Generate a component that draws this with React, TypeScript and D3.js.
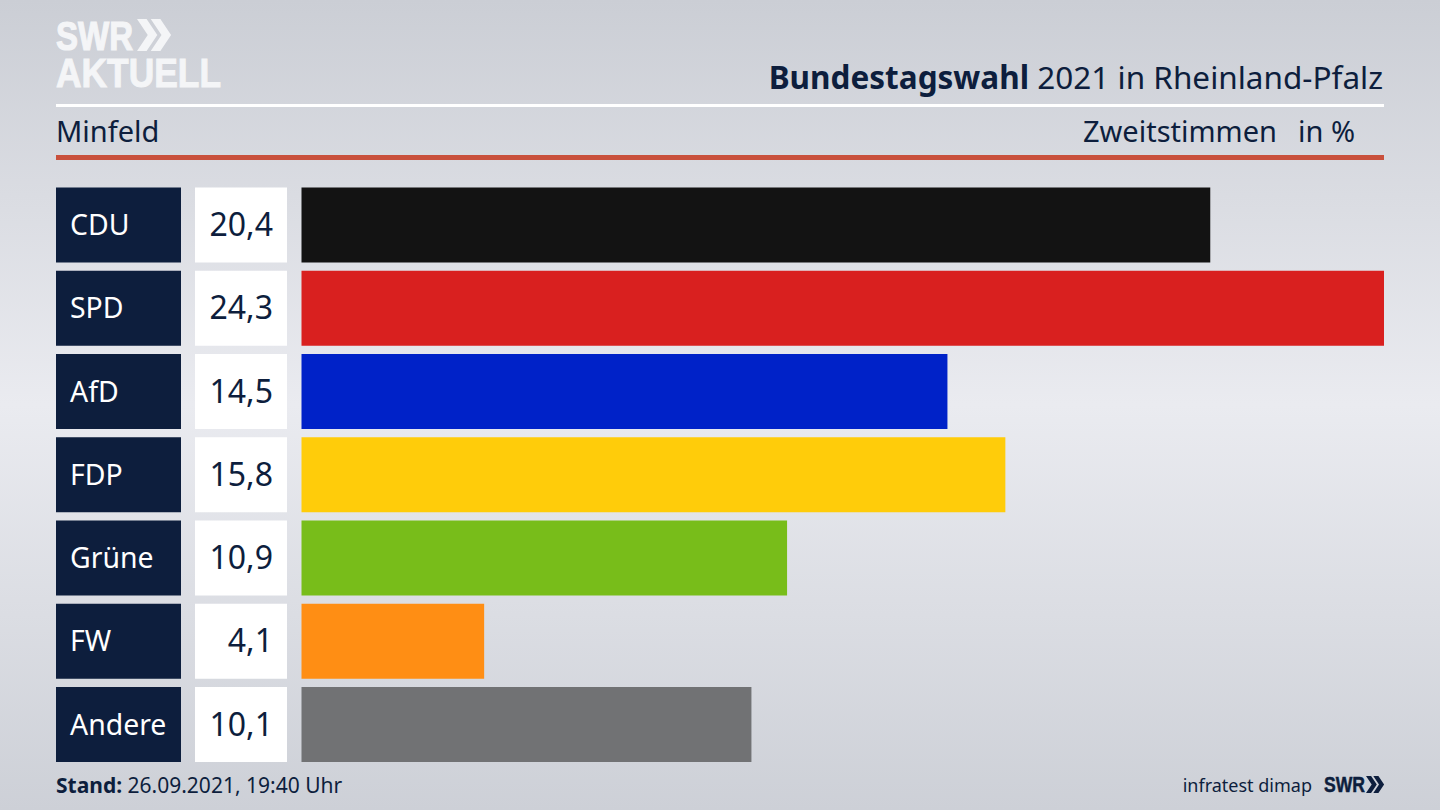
import React, { useEffect } from 'react';
import * as d3 from 'd3';

const parties = ['CDU', 'SPD', 'AfD', 'FDP', 'Grüne', 'FW', 'Andere'];
const shares = [20.4, 24.3, 14.5, 15.8, 10.9, 4.1, 10.1];
const partyColors = ['#131313', '#d9201f', '#0022c8', '#ffcc0a', '#78bd1a', '#ff8e14', '#717274'];

const FONT = '"Noto Sans", sans-serif';
const LOGO_FONT = '"Liberation Sans", sans-serif';
const NAVY = '#0d1e3d';
const LOGO_WHITE = '#f4f5f7';

// little double chevron of the SWR logo
const Chevrons = ({ x, y, h, fill }: { x: number; y: number; h: number; fill: string }) => {
  const w = h * 0.5;
  const t = h * 0.3;
  const one = (ox: number) => {
    const p = d3.path();
    p.moveTo(ox, 0);
    p.lineTo(ox + t, 0);
    p.lineTo(ox + w + t * 0.45, h / 2);
    p.lineTo(ox + t, h);
    p.lineTo(ox, h);
    p.lineTo(ox + w - t * 0.55, h / 2);
    p.closePath();
    return p.toString();
  };
  return (
    <g transform={`translate(${x},${y})`} fill={fill}>
      <path d={one(0)} />
      <path d={one(w * 0.86)} />
    </g>
  );
};

const App = () => {
  useEffect(() => {
    document.body.style.margin = '0';
  }, []);

  const x = d3.scaleLinear().domain([0, 24.3]).range([301.5, 1384]);
  const y = d3.scaleBand().domain(parties).range([187.5, 762]).paddingInner(0.0991);
  const fmt = (v: number) => v.toFixed(1).replace('.', ',');

  return (
    <svg width={1440} height={810} style={{ display: 'block' }} fontFamily={FONT}>
      <defs>
        <linearGradient id="bg" x1="0" y1="0" x2="0" y2="1">
          <stop offset="0" stopColor="#cbced5" />
          <stop offset="0.5" stopColor="#eaebf0" />
          <stop offset="1" stopColor="#cdd0d7" />
        </linearGradient>
      </defs>
      <rect width={1440} height={810} fill="url(#bg)" />

      {/* logo */}
      <text x={56} y={50} fontSize={41} fontWeight={700} fill={LOGO_WHITE} stroke={LOGO_WHITE} strokeWidth={1.2} fontFamily={LOGO_FONT} textLength={77} lengthAdjust="spacingAndGlyphs">SWR</text>
      <Chevrons x={137} y={19} h={32} fill={LOGO_WHITE} />
      <text x={56} y={87} fontSize={41} fontWeight={700} fill={LOGO_WHITE} stroke={LOGO_WHITE} strokeWidth={1} fontFamily={LOGO_FONT} textLength={165} lengthAdjust="spacingAndGlyphs">AKTUELL</text>

      {/* header */}
      <text x={1383} y={89} textAnchor="end" fontSize={31.5} fill={NAVY}>
        <tspan fontWeight={700}>Bundestagswahl</tspan> 2021 in Rheinland-Pfalz
      </text>
      <rect x={56} y={104} width={1328} height={3} fill="#ffffff" />
      <text x={56} y={142} fontSize={29} fill={NAVY}>Minfeld</text>
      <text x={1277} y={142} textAnchor="end" fontSize={29} fill={NAVY}>Zweitstimmen</text>
      <text x={1355} y={142} textAnchor="end" fontSize={29} fill={NAVY}>in %</text>
      <rect x={56} y={155} width={1328} height={5} fill="#c9503c" />

      {/* rows */}
      {parties.map((party, i) => {
        const top = y(party) as number;
        const h = y.bandwidth();
        return (
          <g key={party}>
            <rect x={56} y={top} width={125} height={h} fill={NAVY} />
            <text x={70} y={top + h / 2 + 10} fontSize={28.4} fill="#ffffff">{party}</text>
            <rect x={195} y={top} width={92} height={h} fill="#ffffff" />
            <text x={273} y={top + h / 2 + 11} textAnchor="end" fontSize={32} fill={NAVY}>{fmt(shares[i])}</text>
            <rect x={x(0)} y={top} width={x(shares[i]) - x(0)} height={h} fill={partyColors[i]} />
          </g>
        );
      })}

      {/* footer */}
      <text x={56} y={793} fontSize={21} fill={NAVY}>
        <tspan fontWeight={700}>Stand:</tspan> 26.09.2021, 19:40 Uhr
      </text>
      <text x={1312} y={792} textAnchor="end" fontSize={18} fill={NAVY}>infratest dimap</text>
      <text x={1324} y={792} fontSize={22} fontWeight={700} fill={NAVY} stroke={NAVY} strokeWidth={0.5} fontFamily={LOGO_FONT} textLength={41} lengthAdjust="spacingAndGlyphs">SWR</text>
      <Chevrons x={1366} y={776} h={17} fill={NAVY} />
    </svg>
  );
};

export default App;
